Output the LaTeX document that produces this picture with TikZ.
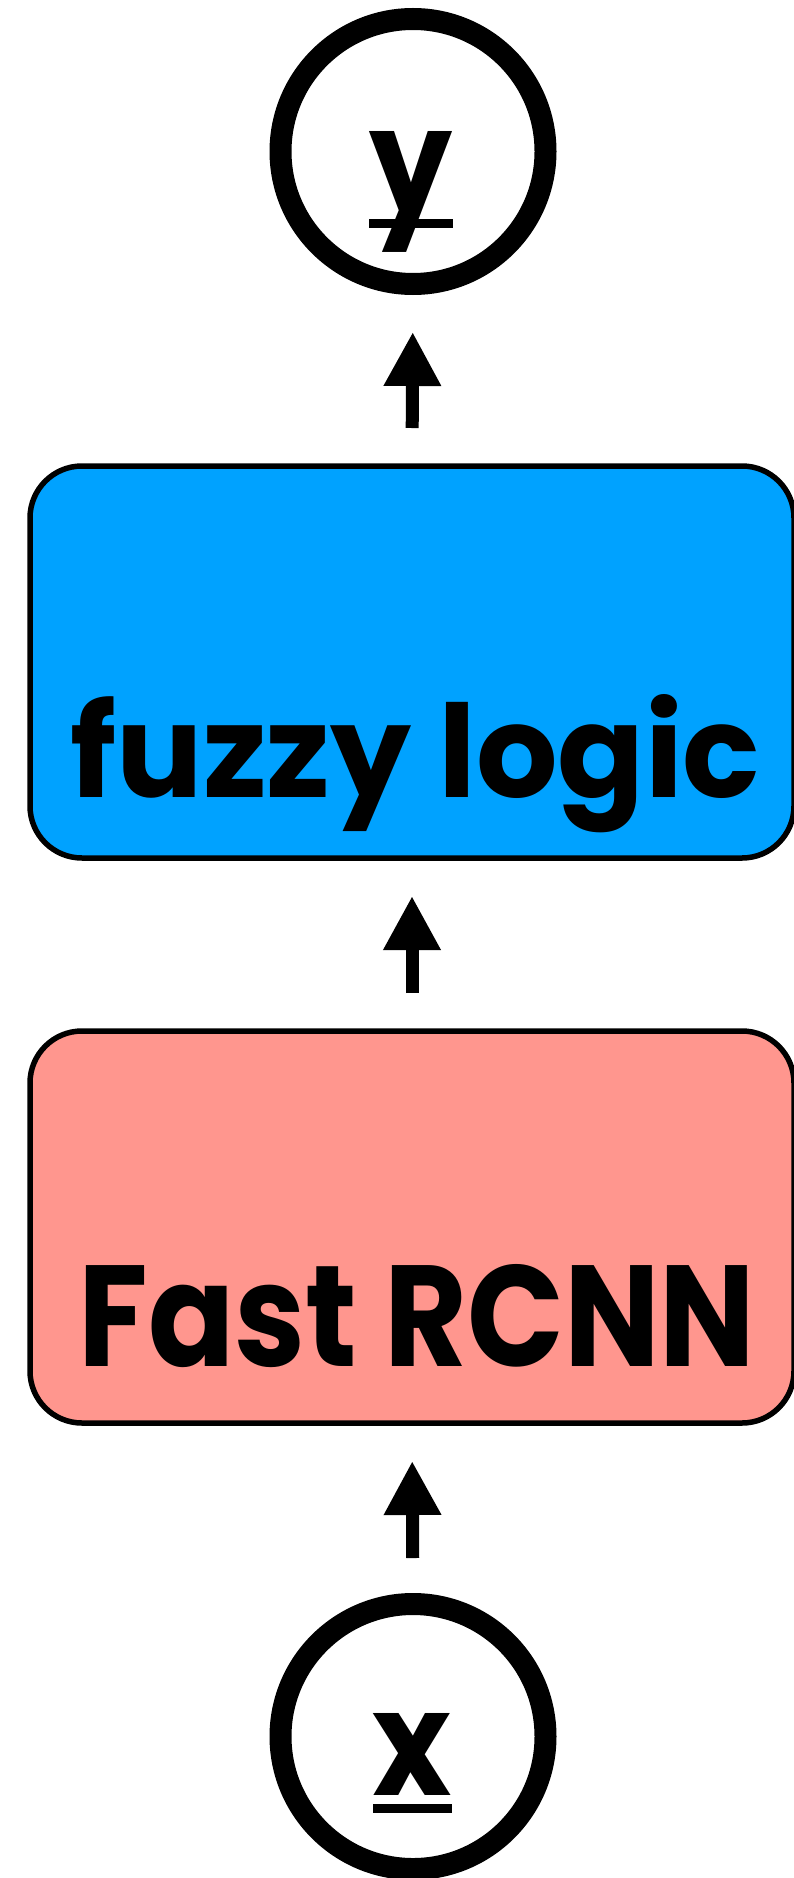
\documentclass[tikz,border=0pt]{standalone}
\usepackage{fontspec}
\setmainfont{Poppins}
\usetikzlibrary{arrows.meta}

\definecolor{logicblue}{HTML}{00A2FF}
\definecolor{rcnnpink}{HTML}{FF968E}

% underline at a fixed drop below the baseline: #1 drop, #2 thickness, #3 text
\newcommand\fixedul[3]{%
  \setbox0=\hbox{#3}%
  \rlap{\copy0}\rule[-\dimexpr#1+#2\relax]{\wd0}{#2}}

\tikzset{
  var/.style={circle, draw, line width=22pt, minimum size=265pt,
              inner sep=0pt, outer sep=0pt},
  block/.style={draw, line width=5.5pt, rounded corners=52pt,
                minimum width=764pt, minimum height=392pt,
                inner sep=0pt, outer sep=0pt},
  lbl/.style={inner sep=0pt, outer sep=0pt, anchor=base, font=\bfseries},
  flow/.style={line width=13pt, -{Triangle[length=54pt,width=54pt]}}
}

\begin{document}
\begin{tikzpicture}[x=1pt,y=-1pt]
\useasboundingbox (0,0) rectangle (794,1878);
\clip (0,0) rectangle (794,1878);

% output and input variables
\node[var] (ycirc) at (413,151.5) {};
\node[var] (xcirc) at (413,1736.5) {};

% processing stages
\node[block, fill=logicblue] (fuzzy) at (412,662) {};
\node[block, fill=rcnnpink] (fast) at (412,1227) {};

% labels
\node[lbl] (ylab) at (411,213.4) {\fixedul{5.6pt}{9pt}{\resizebox{83pt}{82pt}{y}}};
\node[lbl] (xlab) at (412.4,1795) {\fixedul{9.3pt}{9pt}{\resizebox{79pt}{82pt}{x}}};
\node[lbl] (fuzzylab) at (415.5,797) {\resizebox{689pt}{103pt}{fuzzy logic}};
\node[lbl] (fastlab) at (417,1366.7) {\resizebox{677pt}{102pt}{Fast RCNN}};

% data flow
\draw[flow, shorten <=38pt, shorten >=48pt] (fuzzy.north) -- (ycirc.south);
\draw[flow, shorten <=38pt, shorten >=38pt] (fast.north) -- (fuzzy.south);
\draw[flow, shorten <=46pt, shorten >=38pt] (xcirc.north) -- (fast.south);
\end{tikzpicture}
\end{document}
